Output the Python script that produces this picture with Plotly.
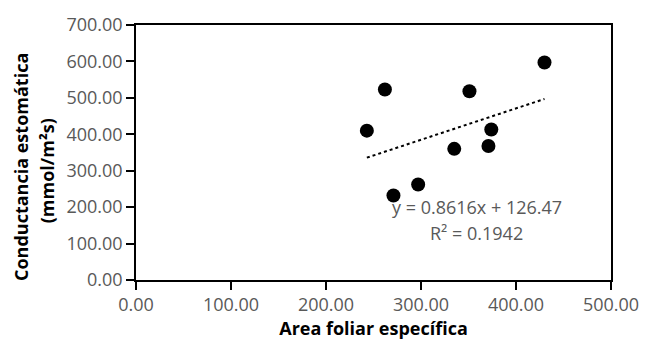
import plotly.graph_objects as go

# Specific leaf area vs stomatal conductance
area_foliar = [243, 262, 271, 297, 335, 351, 371, 374, 430]
conductancia = [410, 523, 232, 262, 360, 518, 368, 413, 597]

# Linear trend line reported on the chart
pendiente = 0.8616
intercepto = 126.47
r2 = 0.1942

x_ticks = [0, 100, 200, 300, 400, 500]
y_ticks = [0, 100, 200, 300, 400, 500, 600, 700]

x_fit = [min(area_foliar), max(area_foliar)]
y_fit = [pendiente * x + intercepto for x in x_fit]

FONT = "Open Sans"
GRAY = "#595959"

W, H = 651, 343
L, R, T, B = 136, 30, 20, 60
plot_w, plot_h = W - L - R, H - T - B


def px_to_paper(px, py):
    return (px - L) / plot_w, (H - B - py) / plot_h


fig = go.Figure()
fig.add_trace(go.Scatter(
    x=x_fit, y=y_fit, mode="lines",
    line=dict(color="black", width=2, dash="dot"),
    hoverinfo="skip", showlegend=False,
))
fig.add_trace(go.Scatter(
    x=area_foliar, y=conductancia, mode="markers",
    marker=dict(color="black", size=14),
    showlegend=False,
))

fig.add_annotation(
    x=358.5, y=200, xref="x", yref="y",
    text=f"y = {pendiente}x + {intercepto}",
    showarrow=False, font=dict(family=FONT, size=18, color=GRAY),
)
fig.add_annotation(
    x=358.5, y=130, xref="x", yref="y",
    text=f"R² = {r2}",
    showarrow=False, font=dict(family=FONT, size=18, color=GRAY),
)

# y-axis title, two rotated lines
for text, (px, py) in [("<b>Conductancia estomática</b>", (18, 166)),
                       ("<b>(mmol/m²s)</b>", (46, 170))]:
    ax, ay = px_to_paper(px, py)
    fig.add_annotation(
        x=ax, y=ay, xref="paper", yref="paper", text=text,
        textangle=-90, showarrow=False, xanchor="center", yanchor="middle",
        font=dict(family=FONT, size=18, color="black"),
    )

axis_common = dict(
    showgrid=False, zeroline=False,
    showline=True, linecolor="black", linewidth=1.5, mirror=True,
    ticks="outside", ticklen=8, tickwidth=1.5, tickcolor="black",
    tickfont=dict(family=FONT, size=18, color=GRAY),
)

fig.update_xaxes(
    range=[0, 500], tickvals=x_ticks,
    ticktext=[f"{v:.2f}" for v in x_ticks],
    title=dict(text="<b>Area foliar específica</b>",
               font=dict(family=FONT, size=18, color="black"), standoff=2),
    **axis_common,
)
fig.update_yaxes(
    range=[0, 700], tickvals=y_ticks,
    ticktext=[f"{v:.2f}" for v in y_ticks],
    **axis_common,
)

fig.update_layout(
    width=W, height=H,
    margin=dict(l=L, r=R, t=T, b=B),
    paper_bgcolor="white", plot_bgcolor="white",
)

fig.write_html("out.html")
